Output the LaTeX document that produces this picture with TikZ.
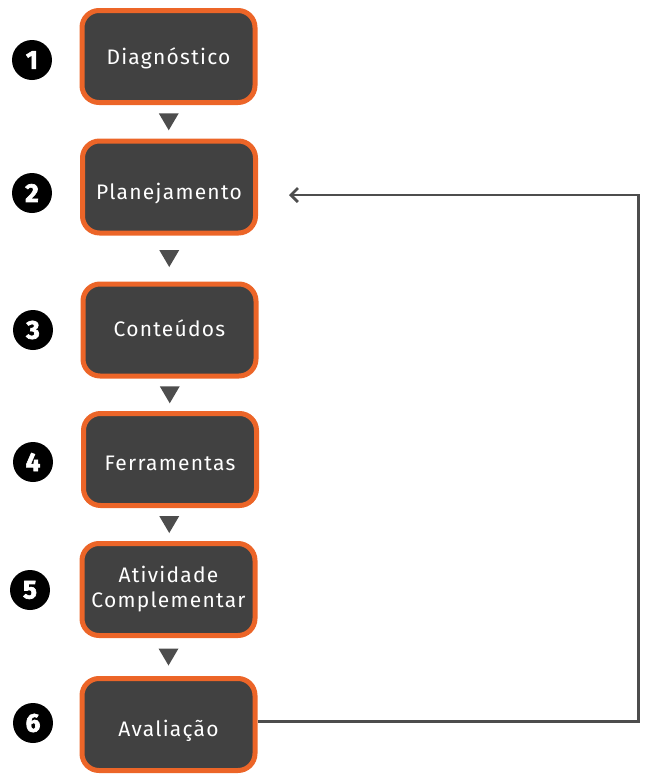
\documentclass[tikz,border=0pt]{standalone}
\usepackage{fontspec}
\setmainfont{Fira Sans}[LetterSpace=6]
\newfontfamily\numfont{Fira Sans}[FakeBold=2.5]
\usetikzlibrary{arrows.meta,calc}
\definecolor{boxfill}{HTML}{414141}
\definecolor{boxedge}{HTML}{EC6528}
\definecolor{linecol}{HTML}{4D4D4D}
\tikzset{
  stepbox/.style={draw=boxedge, line width=5pt, fill=boxfill, rounded corners=17pt,
    minimum width=173pt, minimum height=92pt, inner sep=0pt, text=white,
    align=center, font=\fontsize{21}{25}\selectfont},
  tlift/.style={text height=#1, text depth=0pt},
  numdot/.style={circle, fill=black, minimum size=40pt, inner sep=0pt, text=white,
    font=\numfont\bfseries\fontsize{26}{26}\selectfont},
  loopline/.style={draw=linecol, line width=2.8pt, -{Straight Barb[length=7pt,width=14pt,line width=2.8pt]}},
  tricol/.style={fill=linecol}
}
\newcommand{\downtri}[1]{\fill[tricol] ($(#1)+(-10,-8.5)$) -- ($(#1)+(10,-8.5)$) -- ($(#1)+(0,8.5)$) -- cycle;}
\begin{document}
\begin{tikzpicture}[x=1pt,y=-1pt]
\useasboundingbox (0,0) rectangle (650,780);
\node[stepbox, tlift=16pt] (b1) at (168.5,56.5) {Diagnóstico};
\node[stepbox, tlift=25pt] (b2) at (169,187) {Planejamento};
\node[stepbox, tlift=13pt] (b3) at (169.5,330) {Conteúdos};
\node[stepbox, tlift=22pt] (b4) at (170,459.5) {Ferramentas};
\node[stepbox] (b5) at (168.5,589.5) {Atividade\\Complementar};
\node[stepbox, tlift=23pt] (b6) at (168.5,724.5) {Avaliação};
\node[numdot] (n1) at (32,60) {1};
\node[numdot] (n2) at (32,193) {2};
\node[numdot] (n3) at (33,330) {3};
\node[numdot] (n4) at (33,462) {4};
\node[numdot] (n5) at (30,590) {5};
\node[numdot] (n6) at (33,723) {6};
\coordinate (m1) at ($(b1.south)!0.5!(b2.north)$);
\coordinate (m2) at ($(b2.south)!0.5!(b3.north)$);
\coordinate (m3) at ($(b3.south)!0.5!(b4.north)$);
\coordinate (m4) at ($(b4.south)!0.5!(b5.north)$);
\coordinate (m5) at ($(b5.south)!0.5!(b6.north)$);
\downtri{m1}\downtri{m2}\downtri{m3}\downtri{m4}\downtri{m5}
\coordinate (c1) at (638.5,721.5);
\coordinate (c2) at (638.5,195);
\coordinate (tip) at (289,195);
\draw[loopline] (b6.east |- c1) -- (c1) -- (c2) -- (tip);
\end{tikzpicture}
\end{document}
